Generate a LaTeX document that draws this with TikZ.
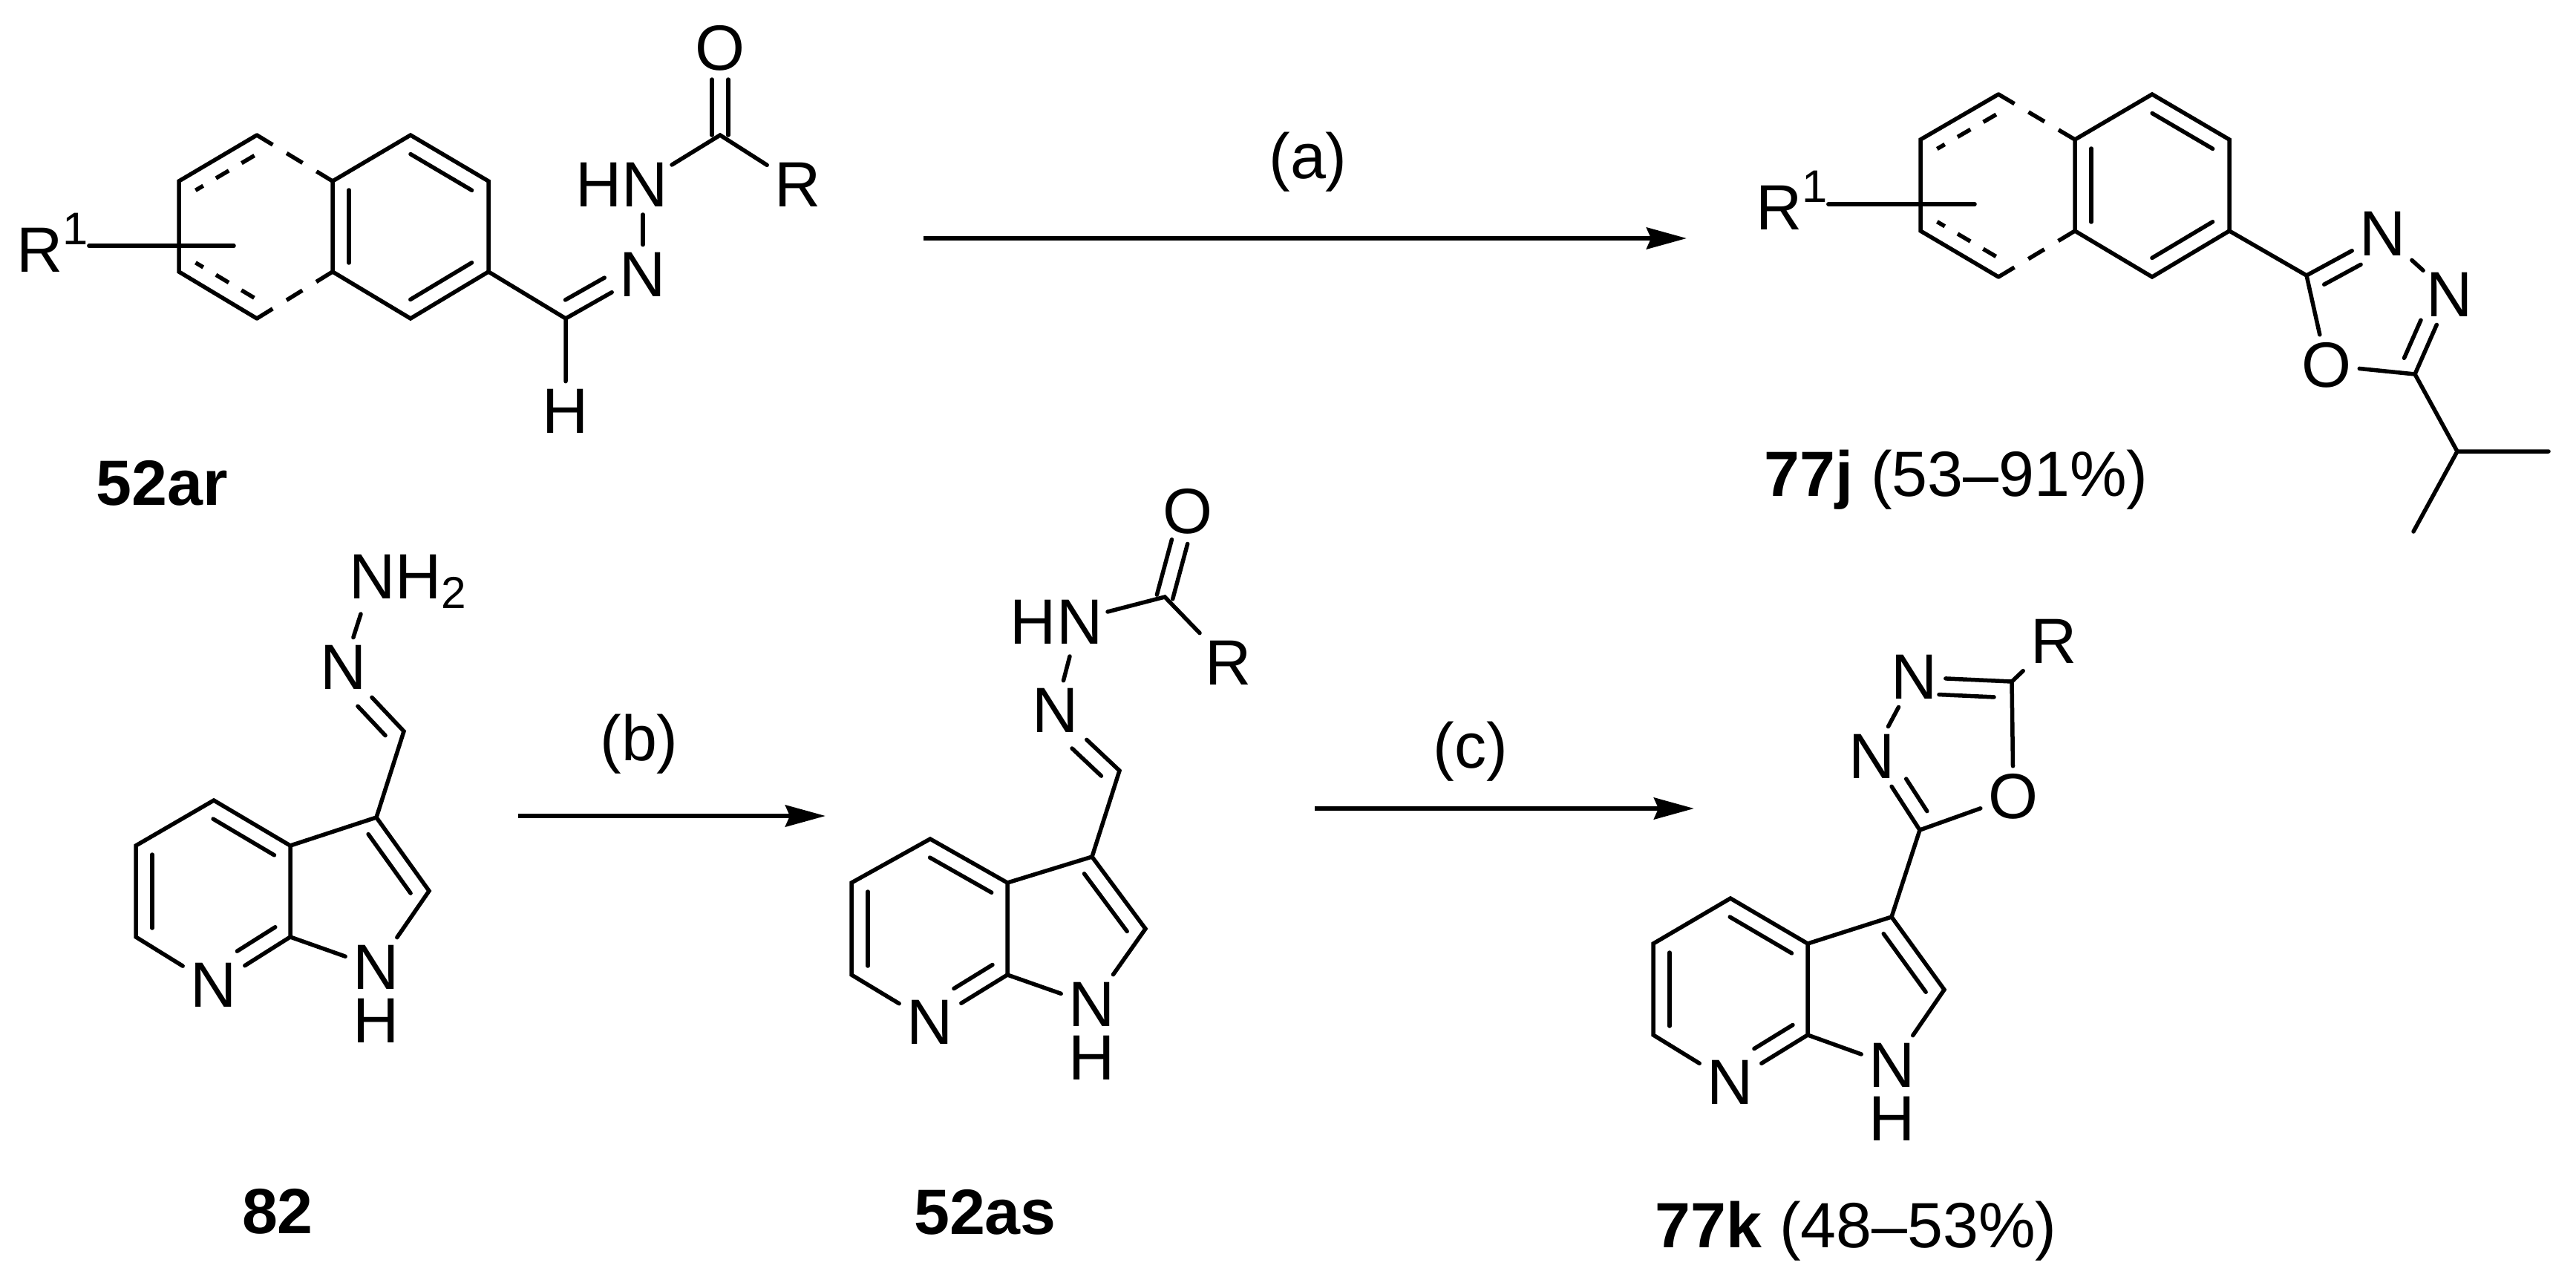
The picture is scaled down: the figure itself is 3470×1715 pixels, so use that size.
\documentclass[tikz,border=0pt]{standalone}
\usepackage{fontspec}
\setmainfont{Liberation Sans}
\usetikzlibrary{arrows.meta, calc}

\newcommand{\chemsize}{\fontsize{24.5}{29}\selectfont}
% inner line of a double bond: {from}{to}{side}{cut at from}{cut at to}
\newcommand{\dbond}[6][]{\draw[bond,#1] ($(#2)!#5!(#3)!.22cm!#4:(#3)$) -- ($(#3)!#6!(#2)!.22cm!-#4:(#2)$);}
% carbonyl, two lines either side of the axis
\newcommand{\cobond}[3]{
  \draw[bond] ($(#1)!.11cm!90:(#2)$) -- ($(#2)!#3!(#1)!.11cm!-90:(#1)$);
  \draw[bond] ($(#1)!.11cm!-90:(#2)$) -- ($(#2)!#3!(#1)!.11cm!90:(#1)$);}

\tikzset{
  bond/.style={line width=.055cm, line cap=round},
  outerdash/.style={line cap=butt, dash pattern=on .25cm off .22cm},
  innerdash/.style={line cap=butt, dash pattern=on .2cm off .2cm, dash phase=.08cm},
  atom/.style={font=\chemsize, inner sep=.1cm},
  hatom/.style={font=\chemsize, inner sep=0pt},
  cmpd/.style={font=\chemsize, inner sep=0pt},
  cond/.style={font=\chemsize, inner sep=0pt},
  rxn/.style={line width=.06cm, -{Stealth[length=.54cm,width=.29cm,inset=.06cm]}}
}

\begin{document}
\begin{tikzpicture}[x=.01cm, y=-.01cm]
    \useasboundingbox (0,0) rectangle (3470,1715);

    % 52ar
    \coordinate (a1) at (346,182);
    \coordinate (a2) at (241,244);
    \coordinate (a3) at (241,366);
    \coordinate (a4) at (346,429);
    \coordinate (a5) at (448,366);
    \coordinate (a6) at (448,244);
    \coordinate (a7) at (553,182);
    \coordinate (a8) at (658,244);
    \coordinate (a9) at (658,366);
    \coordinate (a10) at (553,429);
    \coordinate (a11) at (762,429);
    \coordinate (a12) at (970,182);
    \coordinate (asub) at (315,331);
    \coordinate (anh) at (905,222);
    \coordinate (anb) at (866,289);
    \node [atom] (an) at (866,370) {N};
    \node [atom] (ahn) at (838,249) {HN};
    \node [atom] (ah) at (762,554) {H};
    \node [atom] (ao) at (970,65) {O};
    \node [atom] (ar) at (1075,249) {R};
    \node [atom,anchor=base west,inner sep=0pt] (ar1) at (22,366) {R\raisebox{.36cm}{\fontsize{17.5}{20}\selectfont 1}};
    \node [cmpd] (lar) at (218,651) {\textbf{52ar}};
    \draw[bond] (a1) -- (a2) -- (a3) -- (a4);
    \draw[bond] (a6) -- (a7) -- (a8) -- (a9) -- (a10) -- (a5) -- cycle;
    \draw[bond] (a9) -- (a11) -- (ah);
    \draw[bond,outerdash] (a1) -- (a6);
    \draw[bond,outerdash] (a4) -- (a5);
    \dbond[innerdash]{a2}{a1}{-90}{.13cm}{.13cm}
    \dbond[innerdash]{a3}{a4}{90}{.13cm}{.13cm}
    \dbond{a5}{a6}{-90}{.12cm}{.12cm}
    \dbond{a7}{a8}{-90}{.13cm}{.13cm}
    \dbond{a9}{a10}{-90}{.13cm}{.13cm}
    \draw[bond] (a11) -- (an);
    \dbond{a11}{an}{90}{.12cm}{.47cm}
    \draw[bond] (an) -- (anb);
    \draw[bond] (anh) -- (a12) -- (ar);
    \cobond{a12}{ao}{.42cm}
    \draw[bond] (ar1.east |- asub) -- (asub);

    % 77j
    \coordinate (j1) at (2692,127);
    \coordinate (j2) at (2587,188);
    \coordinate (j3) at (2587,311);
    \coordinate (j4) at (2692,373);
    \coordinate (j5) at (2795,311);
    \coordinate (j6) at (2795,188);
    \coordinate (j7) at (2899,127);
    \coordinate (j8) at (3003,188);
    \coordinate (j9) at (3003,311);
    \coordinate (j10) at (2899,373);
    \coordinate (j11) at (3107,371);
    \coordinate (j15) at (3253,504);
    \coordinate (j16) at (3310,608);
    \coordinate (j17) at (3433,608);
    \coordinate (j18) at (3251,716);
    \coordinate (jsub) at (2660,275);
    \node [atom] (jn1) at (3210,315) {N};
    \node [atom] (jn2) at (3300,397) {N};
    \node [atom] (jo) at (3134,492) {O};
    \node [atom,anchor=base west,inner sep=0pt] (jr1) at (2365,309) {R\raisebox{.36cm}{\fontsize{17.5}{20}\selectfont 1}};
    \node [cmpd] (lj) at (2635,646) {\textbf{77j} (53--91\%)};
    \draw[bond] (j1) -- (j2) -- (j3) -- (j4);
    \draw[bond] (j6) -- (j7) -- (j8) -- (j9) -- (j10) -- (j5) -- cycle;
    \draw[bond,outerdash] (j1) -- (j6);
    \draw[bond,outerdash] (j4) -- (j5);
    \dbond[innerdash]{j2}{j1}{-90}{.13cm}{.13cm}
    \dbond[innerdash]{j3}{j4}{90}{.13cm}{.13cm}
    \dbond{j5}{j6}{-90}{.12cm}{.12cm}
    \dbond{j7}{j8}{-90}{.13cm}{.13cm}
    \dbond{j9}{j10}{-90}{.13cm}{.13cm}
    \draw[bond] (j9) -- (j11) -- (jn1);
    \dbond{j11}{jn1}{-90}{.15cm}{.46cm}
    \draw[bond,shorten <=-.04cm,shorten >=-.08cm] (jn1) -- (jn2);
    \draw[bond] (jn2) -- (j15) -- (jo) -- (j11);
    \dbond{j15}{jn2}{90}{.14cm}{.47cm}
    \draw[bond] (j15) -- (j16) -- (j17);
    \draw[bond] (j16) -- (j18);
    \draw[bond] (jr1.east |- jsub) -- (jsub);

    % 82
    \coordinate (c2) at (544,985);
    \coordinate (c3) at (507,1101);
    \coordinate (c4) at (391,1139);
    \coordinate (c5) at (288,1078);
    \coordinate (c6) at (183,1139);
    \coordinate (c7) at (183,1262);
    \coordinate (c9) at (391,1262);
    \coordinate (c12) at (578,1200);
    \coordinate (cnh) at (486,827);
    \node [atom] (cnh2) at (550,783) {NH\textsubscript{2}};
    \node [atom] (cn) at (463,899) {N};
    \node [atom] (c8) at (288,1327) {N};
    \node [atom] (c10) at (507,1303) {N};
    \node [hatom] (c11) at (507,1375) {H};
    \node [cmpd] (l82) at (374,1632) {\textbf{82}};
    \draw[bond] (cnh) -- (cn) -- (c2) -- (c3) -- (c4) -- (c5) -- (c6) -- (c7) -- (c8) -- (c9) -- (c4);
    \draw[bond] (c9) -- (c10) -- (c12) -- (c3);
    \dbond{c2}{cn}{90}{.13cm}{.51cm}
    \dbond{c3}{c12}{-90}{.12cm}{.12cm}
    \dbond{c5}{c4}{-90}{.12cm}{.12cm}
    \dbond{c7}{c6}{-90}{.12cm}{.12cm}
    \dbond{c9}{c8}{-90}{.1cm}{.51cm}

    % 52as
    \coordinate (d2) at (1569,804);
    \coordinate (d3) at (1508,1038);
    \coordinate (d4) at (1471,1154);
    \coordinate (d5) at (1357,1189);
    \coordinate (d6) at (1253,1130);
    \coordinate (d7) at (1147,1189);
    \coordinate (d8) at (1147,1313);
    \coordinate (d10) at (1357,1313);
    \coordinate (d13) at (1543,1251);
    \coordinate (dnh) at (1492,824);
    \coordinate (dnb) at (1441,884);
    \node [atom] (do) at (1600,689) {O};
    \node [atom] (dr) at (1655,893) {R};
    \node [atom] (dhn) at (1423,838) {HN};
    \node [atom] (dn) at (1422,957) {N};
    \node [atom] (d9) at (1253,1377) {N};
    \node [atom] (d11) at (1471,1353) {N};
    \node [hatom] (d12) at (1471,1425) {H};
    \node [cmpd] (las) at (1327,1633) {\textbf{52as}};
    \draw[bond] (dnh) -- (d2) -- (dr);
    \cobond{d2}{do}{.42cm}
    \draw[bond] (dnb) -- (dn) -- (d3) -- (d4) -- (d5) -- (d6) -- (d7) -- (d8) -- (d9) -- (d10) -- (d5);
    \draw[bond] (d10) -- (d11) -- (d13) -- (d4);
    \dbond{d3}{dn}{90}{.13cm}{.51cm}
    \dbond{d4}{d13}{-90}{.12cm}{.12cm}
    \dbond{d6}{d5}{-90}{.12cm}{.12cm}
    \dbond{d8}{d7}{-90}{.12cm}{.12cm}
    \dbond{d10}{d9}{-90}{.1cm}{.51cm}

    % 77k
    \coordinate (e1) at (2586,1118);
    \coordinate (e4) at (2548,1235);
    \coordinate (e5) at (2710,918);
    \coordinate (e6) at (2435,1271);
    \coordinate (e7) at (2331,1210);
    \coordinate (e8) at (2227,1271);
    \coordinate (e9) at (2227,1394);
    \coordinate (e11) at (2435,1394);
    \coordinate (e14) at (2619,1333);
    \node [atom] (er) at (2767,864) {R};
    \node [atom] (en1) at (2579,912) {N};
    \node [atom] (en2) at (2522,1019) {N};
    \node [atom] (eo) at (2712,1073) {O};
    \node [atom] (e10) at (2331,1458) {N};
    \node [atom] (e12) at (2549,1435) {N};
    \node [hatom] (e13) at (2549,1507) {H};
    \node [cmpd] (lk) at (2500,1658) {\textbf{77k} (48--53\%)};
    \draw[bond] (er) -- (e5) -- (en1) -- (en2) -- (e1) -- (eo) -- (e5);
    \dbond{e5}{en1}{90}{.23cm}{.34cm}
    \dbond{e1}{en2}{-90}{.16cm}{.5cm}
    \draw[bond] (e1) -- (e4) -- (e6) -- (e7) -- (e8) -- (e9) -- (e10) -- (e11) -- (e6);
    \draw[bond] (e11) -- (e12) -- (e14) -- (e4);
    \dbond{e4}{e14}{-90}{.12cm}{.12cm}
    \dbond{e7}{e6}{-90}{.12cm}{.12cm}
    \dbond{e9}{e8}{-90}{.12cm}{.12cm}
    \dbond{e11}{e10}{-90}{.1cm}{.51cm}

    % arrows
    \coordinate (s1) at (1244,321);
    \coordinate (t1) at (2272,321);
    \coordinate (s2) at (698,1099);
    \coordinate (t2) at (1112,1099);
    \coordinate (s3) at (1771,1089);
    \coordinate (t3) at (2282,1089);
    \draw[rxn] (s1) -- (t1);
    \draw[rxn] (s2) -- (t2);
    \draw[rxn] (s3) -- (t3);
    \node [cond] (ca) at (1762,218) {(a)};
    \node [cond] (cb) at (861,1002) {(b)};
    \node [cond] (cc) at (1981,1012) {(c)};
\end{tikzpicture}
\end{document}
